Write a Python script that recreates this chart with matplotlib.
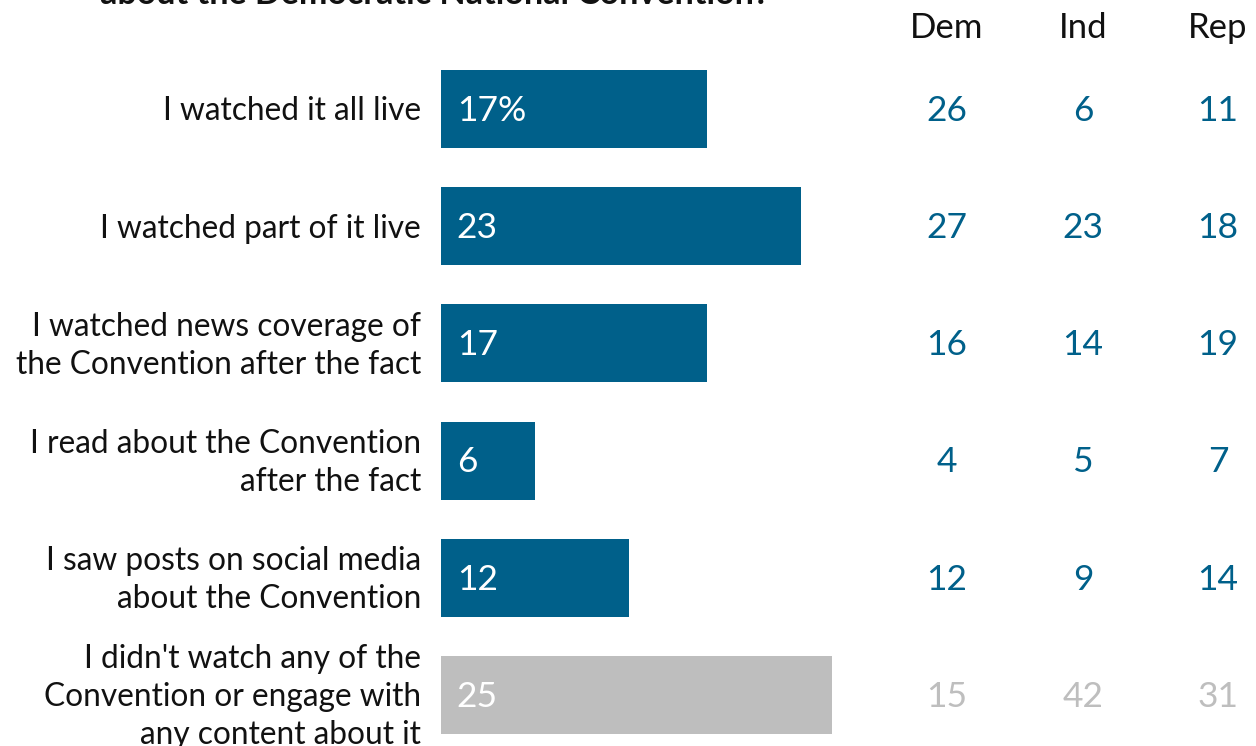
import matplotlib
matplotlib.use('Agg')
from matplotlib import pyplot as plt

plt.rcParams['font.family'] = ['Lato', 'DejaVu Sans']

labels = ['I watched it all live',
          'I watched part of it live',
          'I watched news coverage of\nthe Convention after the fact',
          'I read about the Convention\nafter the fact',
          'I saw posts on social media\nabout the Convention',
          "I didn't watch any of the\nConvention or engage with\nany content about it"]
total = [17, 23, 17, 6, 12, 25]
dem = [26, 27, 16, 4, 12, 15]
ind = [6, 23, 14, 5, 9, 42]
rep = [11, 18, 19, 7, 14, 31]
groups = ['Dem', 'Ind', 'Rep']

blue = '#00608A'
grey = '#BEBEBE'
colors = [blue] * 5 + [grey]

W, H = 1256, 746
fig = plt.figure(figsize=(W / 100, H / 100), dpi=100)

# axes in pixel layout: bars start at x=441, 15.65 px per point
px_unit = 15.65
ax = fig.add_axes([441 / W, 0, 1 - 441 / W, 1])
ax.set_xlim(0, (W - 441) / px_unit)
step = 117.2
ax.set_ylim(5 + (H - 695) / step, -109 / step)
ax.axis('off')

y = list(range(len(labels)))
ax.barh(y, total, height=0.665, color=colors)

for i in y:
    txt = '%d%%' % total[i] if i == 0 else str(total[i])
    ax.text(1.0, i + 0.015, txt, color='white', fontsize=25.5, va='center', ha='left')
    ax.text(-20 / px_unit, i + 0.02, labels[i], fontsize=22.8, ha='right', va='center',
            color='#111111', linespacing=1.33)

col_x = [(947 - 441) / px_unit, (1083 - 441) / px_unit, (1218 - 441) / px_unit]
for g, cx in zip(groups, col_x):
    ax.text(cx, (28 - 109) / step, g, fontsize=25, ha='center', va='center', color='#111111')

for vals, cx in zip([dem, ind, rep], col_x):
    for i in y:
        c = blue if i < 5 else grey
        ax.text(cx, i + 0.015, str(vals[i]), fontsize=25.5, ha='center', va='center', color=c)

fig.text(435 / W, 1 - 4 / H, 'about the Democratic National Convention?', fontsize=24.5,
         fontweight='bold', ha='center', va='baseline', color='#111111')

fig.savefig('out.png', dpi=100)
